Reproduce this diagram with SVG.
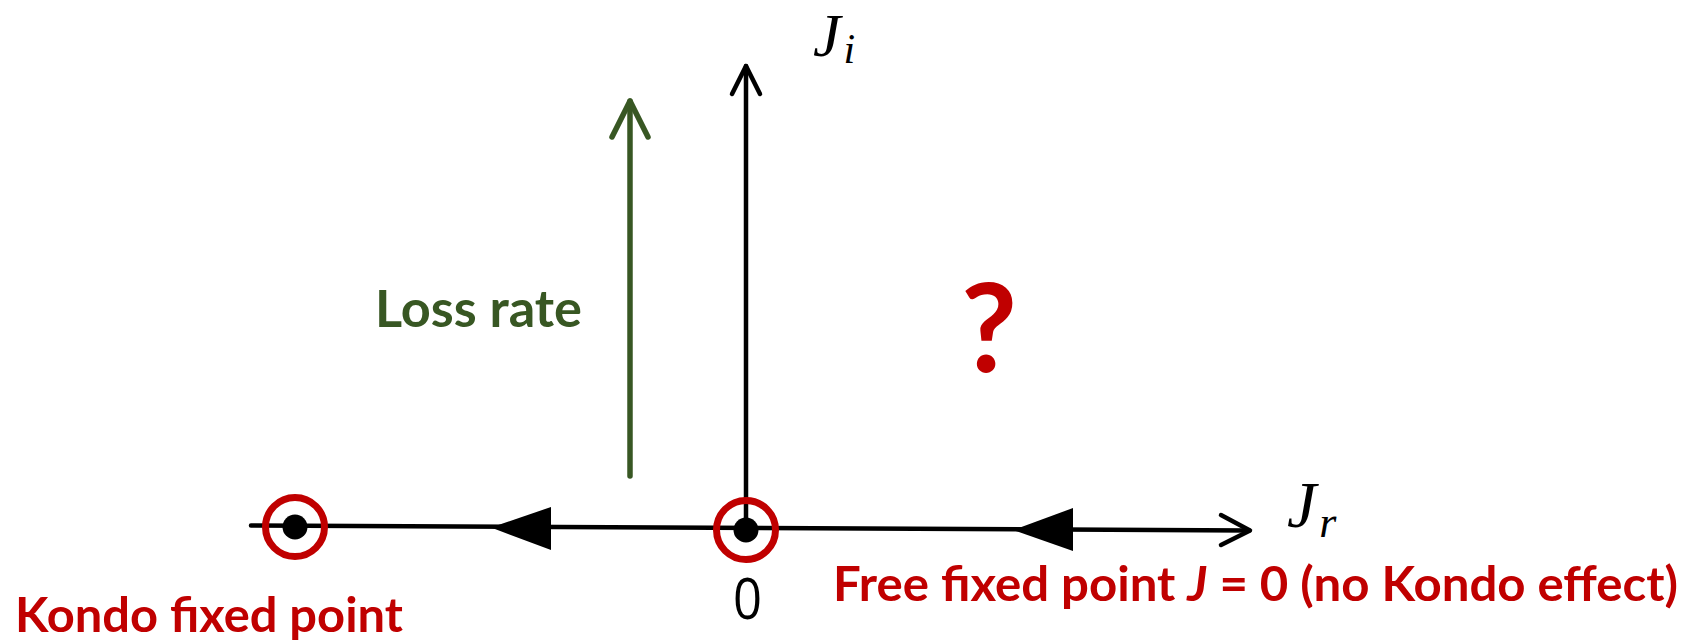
<svg xmlns="http://www.w3.org/2000/svg" width="1695" height="641" viewBox="0 0 1695 641">
<style>
.red{fill:#c00000;font-family:Lato,"Open Sans",sans-serif;font-weight:bold}
.green{fill:#385723;font-family:Lato,"Open Sans",sans-serif;font-weight:bold}
.math{font-family:"Liberation Serif",serif;font-style:italic;fill:#000}
.fp{fill:none;stroke:#c00000;stroke-width:7}
.dot{fill:#000}
.ax{fill:none;stroke:#000;stroke-width:4.5;stroke-linecap:round;stroke-linejoin:round}
</style>
<rect width="1695" height="641" fill="#fff"/>
<g id="connectors">
  <line class="ax" x1="251" y1="525.5" x2="1249" y2="530.5"/>
  <polyline class="ax" points="1221,515 1250,530.5 1221,545"/>
  <line class="ax" x1="746" y1="530" x2="746" y2="66"/>
  <polyline class="ax" points="732,94 746,66 760,94"/>
  <polygon points="491,527.5 551,507 551,550" fill="#000"/>
  <polygon points="1013,530 1073,508 1073,551" fill="#000"/>
  <g id="loss-arrow" fill="none" stroke="#385723" stroke-width="5.5" stroke-linecap="round" stroke-linejoin="round">
    <line x1="630" y1="476" x2="630" y2="101"/>
    <polyline points="612,137 630,101 648,137"/>
  </g>
</g>
<g id="kondo-fp">
  <circle class="fp" cx="295" cy="527" r="29.5"/>
  <circle class="dot" cx="295" cy="527" r="12.5"/>
  <text class="red" x="15" y="632" font-size="48" textLength="388" lengthAdjust="spacingAndGlyphs">Kondo fixed point</text>
</g>
<g id="free-fp">
  <circle class="fp" cx="746" cy="530" r="29.5"/>
  <circle class="dot" cx="746" cy="530" r="12.5"/>
  <text x="733" y="619" font-family="'Open Sans',sans-serif" font-size="57" textLength="29" lengthAdjust="spacingAndGlyphs" fill="#000">0</text>
  <text class="red" x="833" y="601" font-size="48" textLength="845" lengthAdjust="spacingAndGlyphs">Free fixed point <tspan font-style="italic">J</tspan> = 0 (no Kondo effect)</text>
</g>
<g id="axis-labels">
  <text class="math" x="813" y="56" font-size="62">J<tspan font-size="42" dx="3" dy="7">i</tspan></text>
  <text class="math" x="1287" y="527" font-size="66">J<tspan font-size="44" dx="3" dy="10">r</tspan></text>
</g>
<g id="loss-rate">
  <text class="green" x="375" y="327" font-size="52" textLength="207" lengthAdjust="spacingAndGlyphs">Loss rate</text>
</g>
<g id="question">
  <text class="red" x="989" y="372" font-size="122" text-anchor="middle">?</text>
</g>
</svg>
